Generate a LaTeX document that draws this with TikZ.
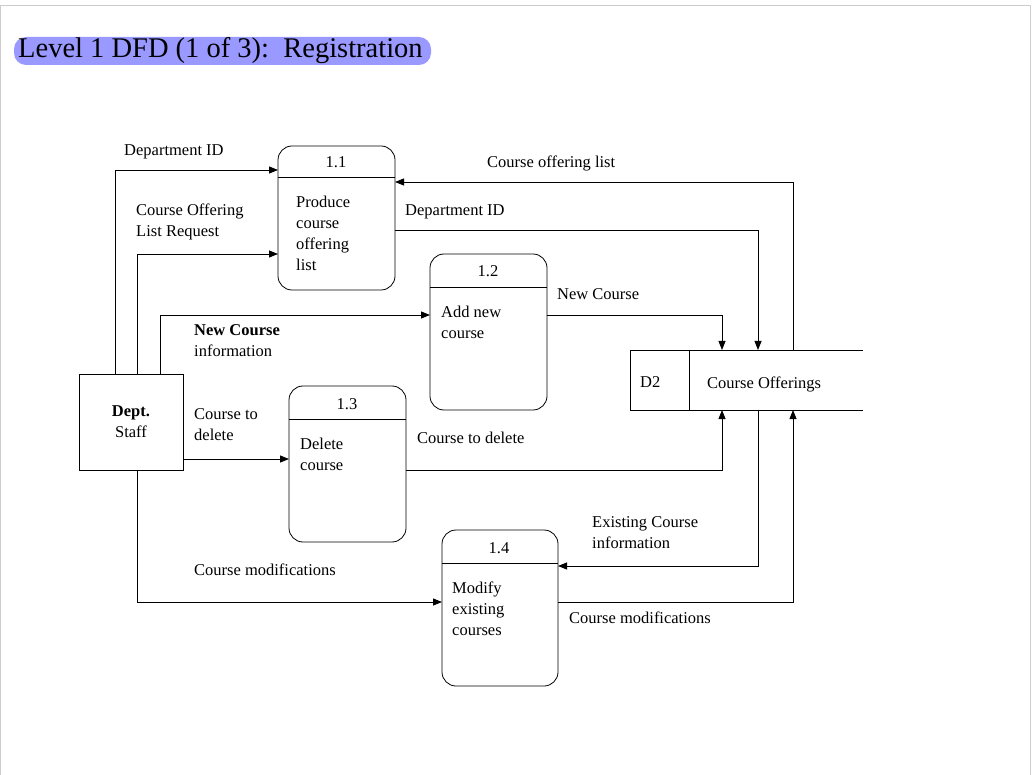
\documentclass[tikz,border=0pt]{standalone}
\usepackage{fontspec}
\setmainfont{Liberation Serif}
\usetikzlibrary{arrows.meta}
\begin{document}
\begin{tikzpicture}[x=1pt,y=-1pt,
  lbl/.style={font=\fontsize{16.5}{21}\selectfont,align=left,anchor=north west,inner sep=0pt},
  flow/.style={-{Triangle[length=9pt,width=7pt]},line width=0.8pt},
  proc/.style={draw,line width=0.8pt,rounded corners=14pt}]
\useasboundingbox (0,0) rectangle (1036,775);
\draw[gray!40] (0,775) -- (0,5) -- (1030,5) -- (1030,775);
\fill[blue!40!white,rounded corners=12pt] (14,37) rectangle (431,65);
\node[anchor=west,inner sep=0pt,font=\fontsize{28.5}{30}\selectfont] (title) at (18,51) {Level 1 DFD (1 of 3):\ \ Registration};
% processes
\draw[proc] (278,146) rectangle (395,290); \draw[line width=0.8pt] (278,177) -- (395,177);
\node[lbl,anchor=center] (p1n) at (336,162) {1.1};
\node[lbl] (p1) at (296,196) {Produce\\course\\offering\\list};
\draw[proc] (430,254) rectangle (547,410); \draw[line width=0.8pt] (430,287) -- (547,287);
\node[lbl,anchor=center] (p2n) at (488,271) {1.2};
\node[lbl] (p2) at (441,306) {Add new\\course};
\draw[proc] (289,386) rectangle (406,542); \draw[line width=0.8pt] (289,419) -- (406,419);
\node[lbl,anchor=center] (p3n) at (347,404) {1.3};
\node[lbl] (p3) at (300,438) {Delete\\course};
\draw[proc] (442,530) rectangle (558,686); \draw[line width=0.8pt] (442,563) -- (558,563);
\node[lbl,anchor=center] (p4n) at (499,548) {1.4};
\node[lbl] (p4) at (452,582) {Modify\\existing\\courses};
% staff
\node[draw,line width=0.8pt,minimum width=104pt,minimum height=96pt,inner sep=0pt,align=center,font=\fontsize{16.5}{21}\selectfont] (staff) at (131,422) {\textbf{Dept.}\\Staff};
% data store
\draw[line width=0.8pt] (863,350) -- (630,350) -- (630,410) -- (863,410);
\draw[line width=0.8pt] (689,350) -- (689,410);
\node[lbl,anchor=west] (d2) at (640,382) {D2};
\node[lbl,anchor=west] (d2t) at (707,384) {Course Offerings};
% flows
\draw[flow] (115,374) -- (115,170) -- (278,170);
\draw[flow] (137,374) -- (137,254) -- (278,254);
\draw[flow] (160,374) -- (160,315) -- (430,315);
\draw[flow] (183,459) -- (289,459);
\draw[flow] (137,470) -- (137,602) -- (442,602);
\draw[flow] (793,350) -- (793,182) -- (395,182);
\draw[flow] (395,230) -- (758,230) -- (758,350);
\draw[flow] (547,315) -- (722,315) -- (722,350);
\draw[flow] (406,470) -- (722,470) -- (722,410);
\draw[flow] (758,410) -- (758,566) -- (558,566);
\draw[flow] (558,602) -- (793,602) -- (793,410);
% labels
\node[lbl] (l1) at (124,144) {Department ID};
\node[lbl] (l2) at (136,204) {Course Offering\\List Request};
\node[lbl] (l3) at (194,324) {\textbf{New Course}\\information};
\node[lbl] (l4) at (194,408) {Course to\\delete};
\node[lbl] (l5) at (194,564) {Course modifications};
\node[lbl] (l6) at (487,156) {Course offering list};
\node[lbl] (l7) at (405,204) {Department ID};
\node[lbl] (l8) at (557,288) {New Course};
\node[lbl] (l9) at (417,432) {Course to delete};
\node[lbl] (l10) at (592,516) {Existing Course\\information};
\node[lbl] (l11) at (569,612) {Course modifications};
\end{tikzpicture}
\end{document}
